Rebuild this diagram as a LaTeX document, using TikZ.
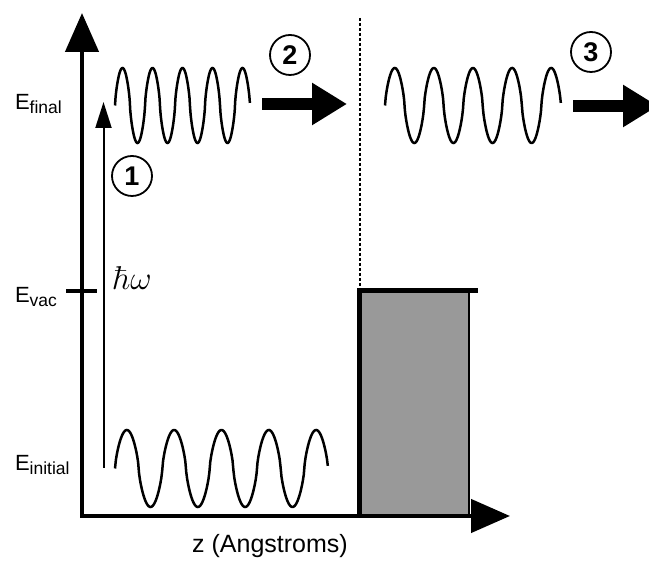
\RequirePackage{fix-cm}
\documentclass[tikz,border=0pt]{standalone}
\usepackage[no-math]{fontspec}
\setmainfont{Liberation Sans}
\usepackage{amsmath}
\usetikzlibrary{arrows.meta}

\newcommand{\Elev}[1]{E\raisebox{-3.5pt}{\fontsize{17.5}{20}\selectfont #1}}

\begin{document}
\begin{tikzpicture}[x=10pt, y=10pt,
          axis/.style={line width=4.5pt, line join=miter},
          tick/.style={line width=4pt},
          wave/.style={line width=2.5pt, samples=240},
          photon/.style={line width=2pt, -{Triangle[length=26pt, width=16pt]}},
          push/.style={line width=12pt, -{Triangle[length=35pt, width=40pt]}},
          num/.style={circle, draw, line width=1.8pt, minimum size=40pt, inner sep=0pt,
                      font=\fontsize{27}{30}\selectfont\bfseries},
          lab/.style={anchor=base west, font=\fontsize{22}{26}\selectfont},
          declare function={sq(\t)=sign(sin(360*\t))*pow(abs(sin(360*\t))+0.0001,0.7);}
        ]
          \useasboundingbox (0,0) rectangle (64.9,56.1);

          % Achsen
          \coordinate (O) at (8.2,4.5);
          \coordinate (ytip) at (8.2,54.8);
          \coordinate (xtip) at (51.0,4.5);

          % Festkoerper
          \fill[black!40] (36.0,4.5) rectangle (46.9,27.05);
          \draw[line width=1.5pt] (46.9,27.05) -- (46.9,4.5);
          \draw[line width=5pt] (35.95,4.5) -- (35.95,27.05) -- (47.8,27.05);

          % Oberflaeche
          \draw[line width=1.3pt, dash pattern=on 3pt off 2pt] (36.0,54.3) -- (36.0,27.3);

          \draw[axis, {Triangle[length=39pt, width=33pt]}-{Triangle[length=39pt, width=33pt]}]
            (ytip) -- (O) -- (xtip);

          % Energieniveaus
          \draw[tick] (6.6,27.0) -- (9.7,27.0);
          \node[lab] (efinal) at (1.15,45.1) {\Elev{final}};
          \node[lab] (evac) at (1.15,25.8) {\Elev{vac}};
          \node[lab] (einit) at (1.15,9.0) {\Elev{initial}};
          \node[anchor=base, font=\fontsize{25}{30}\selectfont] (zlab) at (27.0,0.8) {z (Angstroms)};

          % Anregung
          \coordinate (p1) at (10.35,9.3);
          \coordinate (p2) at (10.35,45.9);
          \draw[photon] (p1) -- (p2);
          \node[anchor=base west, inner sep=0pt, font=\fontsize{33}{36}\selectfont] (hw) at (11.3,27.1) {$\hbar\omega$};

          % Wellen
          \draw[wave] plot[domain=0:4.5] ({11.5+4.733*\x},{9.25+3.85*sq(\x)});
          \draw[wave] plot[domain=0:4.5] ({11.5+3.0*\x},{45.55+3.75*sq(\x)});
          \draw[wave] plot[domain=0:4.5] ({38.5+3.91*\x},{45.55+3.75*sq(\x)});

          % Transport
          \coordinate (a1) at (26.2,45.7);
          \coordinate (a2) at (34.7,45.7);
          \coordinate (b1) at (57.3,45.5);
          \coordinate (b2) at (65.8,45.5);
          \draw[push] (a1) -- (a2);
          \draw[push] (b1) -- (b2);

          % Schritte
          \node[num] (n1) at (13.2,38.5) {1};
          \node[num] (n2) at (29.0,50.6) {2};
          \node[num] (n3) at (59.1,50.9) {3};
        \end{tikzpicture}
\end{document}
